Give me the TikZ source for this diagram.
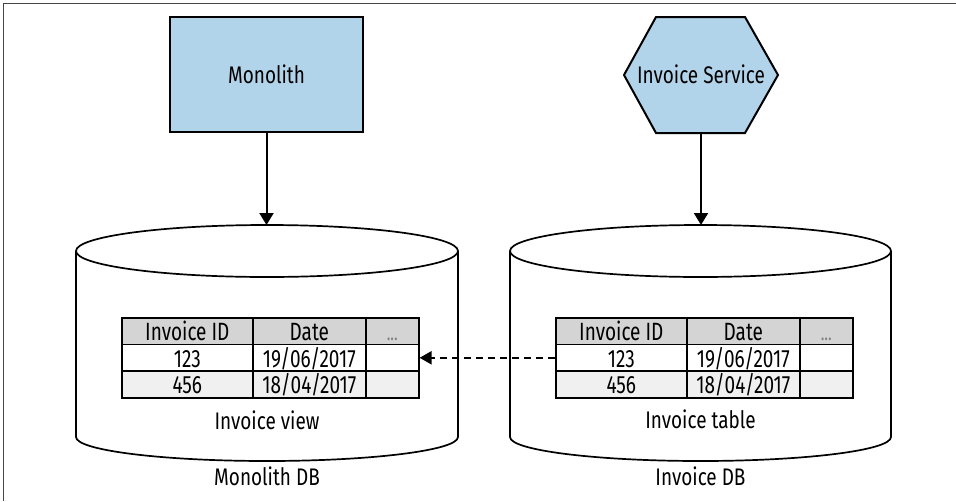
\documentclass[tikz,border=0pt]{standalone}
\usepackage{fontspec}
\setmainfont[FakeStretch=0.79]{Fira Sans}
\newfontfamily\tblfont[FakeStretch=0.76]{Fira Sans}
\usetikzlibrary{arrows.meta}
\definecolor{svcblue}{RGB}{178,212,234}
\definecolor{hdrgray}{RGB}{212,212,212}
\definecolor{rowgray}{RGB}{240,240,240}
\definecolor{framegray}{RGB}{70,70,70}
\newcommand\invtable[2]{%
  \node[cell,fill=hdrgray,minimum width=131pt] (#1ha) at (#2,317) {Invoice ID};
  \node[cell,fill=hdrgray,minimum width=113pt] (#1hb) at ({#2+131},317) {Date};
  \node[cell,fill=hdrgray,minimum width=53pt,text=gray] (#1hc) at ({#2+244},317) {\fontsize{20}{22}\selectfont...};
  \node[cell,fill=white,minimum width=131pt] (#1aa) at (#2,343.67) {123};
  \node[cell,fill=white,minimum width=113pt] (#1ab) at ({#2+131},343.67) {19/06/2017};
  \node[cell,fill=white,minimum width=53pt] (#1ac) at ({#2+244},343.67) {};
  \node[cell,fill=rowgray,minimum width=131pt] (#1ba) at (#2,370.33) {456};
  \node[cell,fill=rowgray,minimum width=113pt] (#1bb) at ({#2+131},370.33) {18/04/2017};
  \node[cell,fill=rowgray,minimum width=53pt] (#1bc) at ({#2+244},370.33) {};
}
\newcommand\dbcyl[2]{% center x, x radius
  \draw[cyl,fill=white] ({#1-#2},251) -- ({#1-#2},437)
     arc[start angle=180,end angle=0,x radius=#2,y radius=24] -- ({#1+#2},251);
  \draw[cyl,fill=white] (#1,251) ellipse[x radius=#2,y radius=26];
}
\begin{document}
\begin{tikzpicture}[x=1pt,y=-1pt,
  lbl/.style={font=\fontsize{24}{28}\selectfont,anchor=base,inner sep=0pt},
  cell/.style={draw,line width=1.6pt,inner sep=0pt,minimum height=26.67pt,
     anchor=north west,font=\tblfont\fontsize{25}{28}\selectfont,text height=19pt,text depth=0pt},
  svcbox/.style={draw,line width=2pt,fill=svcblue,inner sep=0pt,
     font=\fontsize{24}{28}\selectfont,text height=17pt,text depth=0pt},
  cyl/.style={line width=1.7pt},
  arr/.style={line width=2pt,-{Triangle[length=12pt,width=14pt]}},
  dasharr/.style={line width=2.2pt,dash pattern=on 7pt off 5pt,-{Triangle[length=12pt,width=13pt]}}
]
\useasboundingbox (0,0) rectangle (956,501);
\draw[line width=1pt,framegray] (3,501) -- (3,3) -- (956,3);

% databases
\dbcyl{267}{191}
\dbcyl{700.5}{190.5}
\coordinate (ltop) at (266.5,225);
\coordinate (rtop) at (701,225);

% tables
\invtable{L}{121}
\invtable{R}{555}

% labels
\node[lbl] (lview) at (267,429) {Invoice view};
\node[lbl] (ldb) at (267,485) {Monolith DB};
\node[lbl] (rview) at (700.5,428) {Invoice table};
\node[lbl] (rdb) at (700.5,485) {Invoice DB};

% monolith
\node[svcbox,minimum width=193pt,minimum height=115pt] (mono) at (266.5,74.5) {Monolith};

% invoice service hexagon
\draw[line width=2pt,fill=svcblue,line join=miter]
  (624,75) -- (656,17) -- (745,17) -- (778,75) -- (745,133) -- (656,133) -- cycle;
\node[inner sep=0pt,font=\fontsize{24}{28}\selectfont,text height=17pt,text depth=0pt] (svc) at (701,74.5) {Invoice Service};
\coordinate (svcb) at (701,133);

% connectors
\draw[arr] (mono.south) -- (ltop);
\draw[arr] (svcb) -- (rtop);
\draw[dasharr] (Raa.west) -- (Lac.east);
\end{tikzpicture}
\end{document}
